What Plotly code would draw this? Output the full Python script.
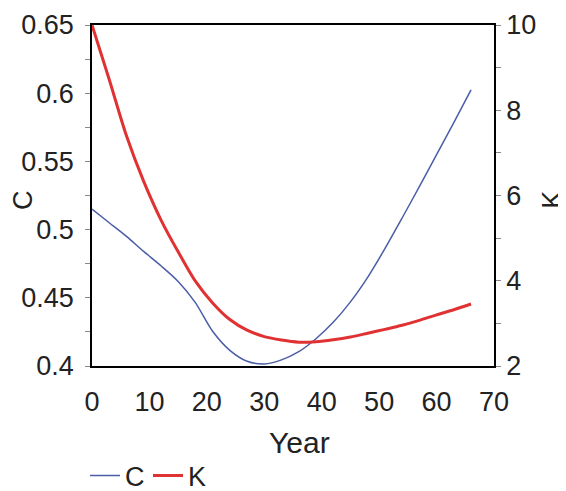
import plotly.graph_objects as go

years = [0, 3, 6, 9, 12, 15, 18, 21, 24, 27, 30, 33, 36, 39, 42, 45, 48, 51, 54, 57, 60, 63, 66]
c_vals = [0.515, 0.505, 0.495, 0.484, 0.4735, 0.462, 0.4465, 0.4255, 0.4115, 0.4035, 0.4015, 0.4045,
          0.4105, 0.420, 0.432, 0.447, 0.465, 0.486, 0.5085, 0.5315, 0.555, 0.5785, 0.6025]
k_vals = [10.0, 8.72, 7.40, 6.33, 5.43, 4.68, 3.99, 3.48, 3.09, 2.84, 2.69, 2.61,
          2.56, 2.57, 2.615, 2.68, 2.77, 2.86, 2.955, 3.07, 3.20, 3.32, 3.455]

font_family = "Liberation Sans, Arial, sans-serif"
txt = "#222222"
FS = 27

fig = go.Figure()
fig.add_trace(go.Scatter(x=years, y=c_vals, name="C", mode="lines",
                         line=dict(color="#4a5da8", width=1.5, shape="spline", smoothing=0.8),
                         yaxis="y"))
fig.add_trace(go.Scatter(x=years, y=k_vals, name="K", mode="lines",
                         line=dict(color="#e03232", width=3, shape="spline", smoothing=0.8),
                         yaxis="y2"))

# page body has an 8px default margin, so the figure is sized to compensate
H = 500
fig.update_layout(
    width=558, height=H,
    margin=dict(l=84, r=72, t=17, b=H - 17 - 341),
    paper_bgcolor="white", plot_bgcolor="white",
    font=dict(family=font_family, size=FS, color=txt),
    showlegend=True,
    legend=dict(orientation="h", x=-0.0174, xanchor="left",
                yref="container", y=1 - 468 / H, yanchor="middle",
                font=dict(size=FS), itemwidth=30, entrywidthmode="pixels", entrywidth=18,
                bgcolor="rgba(0,0,0,0)"),
    xaxis=dict(range=[0, 70], dtick=10, tick0=0, showgrid=False, zeroline=False,
               showline=True, linecolor="black", linewidth=1.5, mirror=True,
               ticks="", ticklabelstandoff=11, automargin=False,
               tickfont=dict(size=FS)),
    yaxis=dict(range=[0.4, 0.65], dtick=0.05, tick0=0.4, showgrid=False, zeroline=False,
               showline=True, linecolor="black", linewidth=1.5, automargin=False,
               ticks="outside", ticklen=5, tickcolor="#888888", tickwidth=1,
               ticklabelstandoff=6,
               minor=dict(ticks="outside", ticklen=5, tickcolor="#888888", dtick=0.025, tick0=0.4),
               tickfont=dict(size=FS)),
    yaxis2=dict(range=[2, 10], dtick=2, tick0=2, overlaying="y", side="right",
                showgrid=False, zeroline=False, automargin=False,
                showline=True, linecolor="black", linewidth=1.5,
                ticks="outside", ticklen=5, tickcolor="#888888", tickwidth=1,
                ticklabelstandoff=0,
                minor=dict(ticks="outside", ticklen=5, tickcolor="#888888", dtick=1, tick0=2),
                tickfont=dict(size=FS)),
    annotations=[
        dict(text="Year", xref="paper", yref="paper", x=0.516, y=-0.2229,
             showarrow=False, font=dict(size=30, color=txt), xanchor="center", yanchor="middle"),
        dict(text="C", xref="paper", yref="paper", x=-0.1716, y=0.487, textangle=-90,
             showarrow=False, font=dict(size=FS, color=txt), xanchor="center", yanchor="middle"),
        dict(text="K", xref="paper", yref="paper", x=1.144, y=0.487, textangle=-90,
             showarrow=False, font=dict(size=FS, color=txt), xanchor="center", yanchor="middle"),
    ],
)

fig.write_html("out.html")
